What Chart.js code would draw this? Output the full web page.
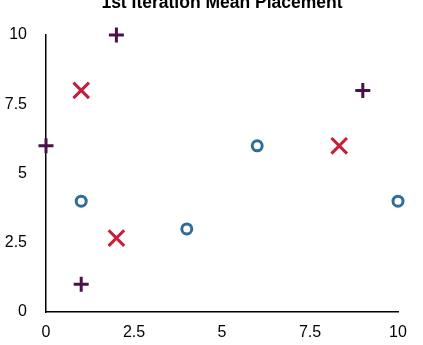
<!DOCTYPE html>
<html>
<head>
<meta charset="utf-8">
<script src="https://cdn.jsdelivr.net/npm/chart.js@4"></script>
<style>
  html, body { margin: 0; padding: 0; background: #fff; }
  #wrap { width: 423px; height: 345px; }
</style>
</head>
<body>
<div id="wrap"><canvas id="myChart" width="423" height="345"></canvas></div>
<script>
var titleText = '1st Iteration Mean Placement';
var tickValues = [0, 2.5, 5, 7.5, 10];

// cluster points
var plusPoints = [{x: 2, y: 10}, {x: 0, y: 6}, {x: 1, y: 1}, {x: 9, y: 8}];
var crossPoints = [{x: 1, y: 8}, {x: 2, y: 2.67}, {x: 8.33, y: 6}];
var circlePoints = [{x: 1, y: 4}, {x: 4, y: 3}, {x: 6, y: 6}, {x: 10, y: 4}];

var titlePlugin = {
  id: 'topTitle',
  afterDraw: function(chart) {
    var c = chart.ctx;
    var area = chart.chartArea;
    c.save();
    c.font = 'bold 17.5px "Liberation Sans", Arial, sans-serif';
    c.fillStyle = '#000';
    c.textAlign = 'center';
    c.textBaseline = 'alphabetic';
    c.fillText(titleText, (area.left + area.right) / 2, 8);
    c.restore();
  }
};

var axisFont = { family: '"Liberation Sans", Arial, sans-serif', size: 16 };

const config = {
  type: 'scatter',
  data: {
    datasets: [{
      label: 'a',
      data: plusPoints,
      clip: false,
      pointStyle: 'cross',
      pointRadius: 7.5,
      pointHoverRadius: 7.5,
      pointBorderWidth: 3,
      borderColor: '#4a1149',
      backgroundColor: '#4a1149'
    },
    {
      label: 'b',
      data: crossPoints,
      clip: false,
      pointStyle: 'crossRot',
      pointRadius: 11,
      pointHoverRadius: 11,
      pointBorderWidth: 3,
      borderColor: '#c41e3a',
      backgroundColor: '#c41e3a'
    },
    {
      label: 'c',
      data: circlePoints,
      clip: false,
      pointStyle: 'circle',
      pointRadius: 5,
      pointHoverRadius: 5,
      pointBorderWidth: 3,
      borderColor: '#2e6f97',
      backgroundColor: '#ffffff'
    }]
  },
  options: {
    responsive: false,
    animation: false,
    layout: { padding: { top: 35, right: 25, left: 0, bottom: 0 } },
    plugins: {
      legend: { display: false },
      tooltip: { enabled: false }
    },
    scales: {
      x: {
        type: 'linear',
        min: 0,
        max: 10,
        afterBuildTicks: function(axis) { axis.ticks = tickValues.map(function(v) { return {value: v}; }); },
        afterFit: function(axis) { axis.height = 33; },
        grid: { display: false, drawTicks: false },
        border: { display: true, color: '#000', width: 1.5 },
        ticks: { color: '#000', font: axisFont, padding: 11, maxRotation: 0 }
      },
      y: {
        type: 'linear',
        min: 0,
        max: 10,
        afterBuildTicks: function(axis) { axis.ticks = tickValues.map(function(v) { return {value: v}; }); },
        afterFit: function(axis) { axis.width = 46; },
        grid: { display: false, drawTicks: false },
        border: { display: true, color: '#000', width: 1.5 },
        ticks: { color: '#000', font: axisFont, padding: 19 }
      }
    }
  },
  plugins: [titlePlugin]
};

var ctx = document.getElementById('myChart').getContext('2d');
var myChart = new Chart(ctx, config);
</script>
</body>
</html>
